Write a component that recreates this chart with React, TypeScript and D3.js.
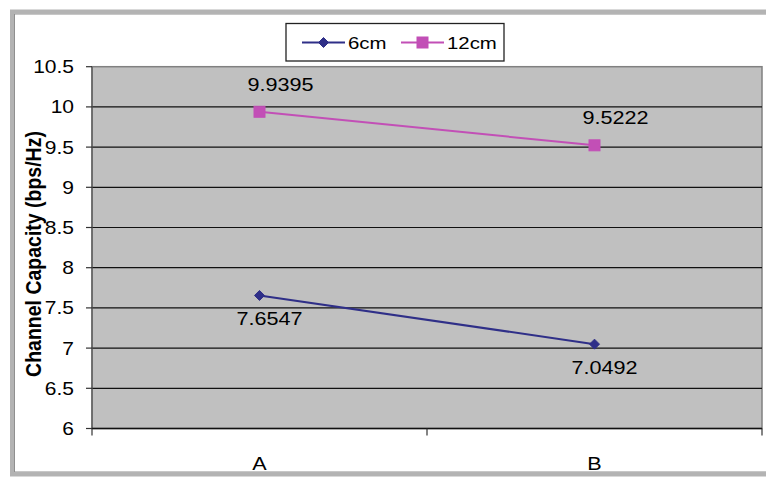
import React from "react";
import * as d3 from "d3";

const categories = ["A", "B"];
const series6cm = [7.6547, 7.0492];
const series12cm = [9.9395, 9.5222];
const yTickValues = [6, 6.5, 7, 7.5, 8, 8.5, 9, 9.5, 10, 10.5];
const seriesNames = ["6cm", "12cm"];

const W = 766;
const H = 478;
const plot = { left: 92, right: 762, top: 66.7, bottom: 428.5 };
const NAVY = "#2f2f88";
const PINK = "#c24fb6";
const FONT = "'Liberation Sans', Arial, sans-serif";
const SX = 1.2;

function SText(props: {
  x: number;
  y: number;
  size: number;
  anchor?: string;
  bold?: boolean;
  rotate?: number;
  sx?: number;
  children: React.ReactNode;
}) {
  const { x, y, size, anchor = "middle", bold, rotate = 0, sx = SX, children } = props;
  return (
    <text
      transform={`translate(${x},${y}) scale(${sx},1) rotate(${rotate})`}
      textAnchor={anchor}
      fontFamily={FONT}
      fontSize={size}
      fontWeight={bold ? "bold" : "normal"}
      fill="#000"
    >
      {children}
    </text>
  );
}

function Marker({ kind, x, y, color }: { kind: string; x: number; y: number; color: string }) {
  if (kind === "diamond") {
    const r = 5;
    return (
      <path
        d={`M${x},${y - r}L${x + r},${y}L${x},${y + r}L${x - r},${y}Z`}
        fill={color}
        stroke={color}
        strokeWidth={1}
      />
    );
  }
  const s = 11;
  return <rect x={x - s / 2} y={y - s / 2} width={s} height={s} fill={color} stroke={color} strokeWidth={1} />;
}

export default function App() {
  const x = d3.scaleBand<string>().domain(categories).range([plot.left, plot.right]);
  const y = d3.scaleLinear().domain([6, 10.5]).range([plot.bottom, plot.top]);
  const cx = (c: string) => (x(c) as number) + x.bandwidth() / 2;

  const line = d3
    .line<number>()
    .x((_, i) => cx(categories[i]))
    .y((d) => y(d));

  const series = [
    { name: seriesNames[0], values: series6cm, color: NAVY, marker: "diamond", ldx: 10, ldy: 30 },
    { name: seriesNames[1], values: series12cm, color: PINK, marker: "square", ldx: 21, ldy: -21 },
  ];

  const xTickPositions = [plot.left, ...categories.slice(1).map((c) => x(c) as number), plot.right];

  return (
    <div style={{ position: "fixed", left: 0, top: 0, width: W, height: H, background: "#fff" }}>
      <svg width={W} height={H} viewBox={`0 0 ${W} ${H}`}>
        <rect x={0} y={0} width={W} height={H} fill="#fff" />
        {/* outer chart frame */}
        <rect x={12} y={11.5} width={W + 40} height={463} fill="#fff" stroke="#b3b3b3" strokeWidth={4} />
        <rect x={14.5} y={14} width={W + 40} height={458} fill="none" stroke="#8f8f8f" strokeWidth={1} />

        {/* plot area */}
        <rect
          x={plot.left}
          y={plot.top}
          width={plot.right - plot.left}
          height={plot.bottom - plot.top}
          fill="#c0c0c0"
          stroke="#808080"
          strokeWidth={1.5}
        />
        {yTickValues
          .filter((v) => v > 6 && v < 10.5)
          .map((v) => (
            <line key={v} x1={plot.left} x2={plot.right} y1={y(v)} y2={y(v)} stroke="#111" strokeWidth={1.2} />
          ))}
        {/* y axis */}
        <line x1={plot.left} x2={plot.left} y1={plot.top} y2={plot.bottom} stroke="#555" strokeWidth={1.2} />
        {yTickValues.map((v) => (
          <g key={v}>
            <line x1={plot.left - 6} x2={plot.left} y1={y(v)} y2={y(v)} stroke="#333" strokeWidth={1.2} />
            <SText x={74} y={y(v) + 6.5} size={17.5} anchor="end">
              {String(v)}
            </SText>
          </g>
        ))}
        {/* x axis */}
        <line x1={plot.left} x2={plot.right} y1={plot.bottom} y2={plot.bottom} stroke="#111" strokeWidth={1.5} />
        {xTickPositions.map((p, i) => (
          <line key={i} x1={p} x2={p} y1={plot.bottom} y2={plot.bottom + 7} stroke="#333" strokeWidth={1.2} />
        ))}
        {categories.map((c) => (
          <SText key={c} x={cx(c)} y={470} size={18}>
            {c}
          </SText>
        ))}

        {/* series */}
        {series.map((s) => (
          <g key={s.name}>
            <path d={line(s.values) || ""} fill="none" stroke={s.color} strokeWidth={2} />
            {s.values.map((v, i) => (
              <Marker key={i} kind={s.marker} x={cx(categories[i])} y={y(v)} color={s.color} />
            ))}
            {s.values.map((v, i) => (
              <SText key={"l" + i} x={cx(categories[i]) + s.ldx} y={y(v) + s.ldy} size={18}>
                {v.toFixed(4)}
              </SText>
            ))}
          </g>
        ))}

        {/* y axis title */}
        <SText x={41} y={254} size={19.5} bold rotate={-90} sx={1.15}>
          Channel Capacity (bps/Hz)
        </SText>

        {/* legend */}
        <rect x={286} y={23.5} width={218} height={37.5} fill="#fff" stroke="#222" strokeWidth={1.3} />
        {series.map((s, i) => {
          const lx = i === 0 ? 302 : 401;
          const ly = 42.5;
          return (
            <g key={s.name}>
              <line x1={lx} x2={lx + 43} y1={ly} y2={ly} stroke={s.color} strokeWidth={2} />
              <Marker kind={s.marker} x={lx + 21.5} y={ly} color={s.color} />
              <SText x={lx + 46} y={ly + 6.5} size={17} anchor="start">
                {s.name}
              </SText>
            </g>
          );
        })}
      </svg>
    </div>
  );
}
